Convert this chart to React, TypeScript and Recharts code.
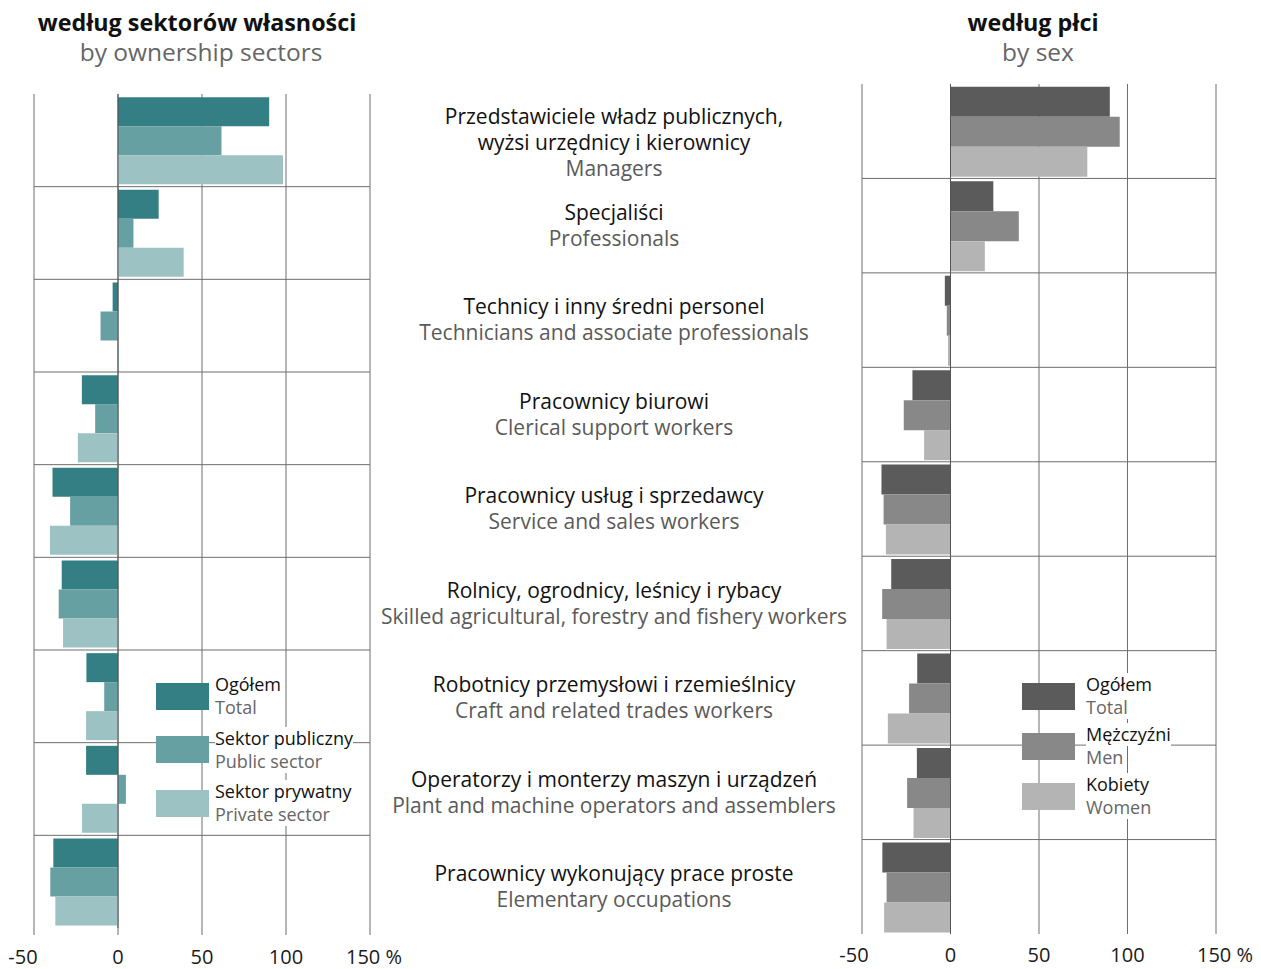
import React from 'react';
import { BarChart, Bar, XAxis, YAxis, CartesianGrid, ReferenceLine, Legend } from 'recharts';

const FONT = '"Open Sans", "Noto Sans", sans-serif';

const occupationsPl: string[][] = [
  ['Przedstawiciele władz publicznych,', 'wyżsi urzędnicy i kierownicy'],
  ['Specjaliści'],
  ['Technicy i inny średni personel'],
  ['Pracownicy biurowi'],
  ['Pracownicy usług i sprzedawcy'],
  ['Rolnicy, ogrodnicy, leśnicy i rybacy'],
  ['Robotnicy przemysłowi i rzemieślnicy'],
  ['Operatorzy i monterzy maszyn i urządzeń'],
  ['Pracownicy wykonujący prace proste'],
];
const occupationsEn: string[] = [
  'Managers',
  'Professionals',
  'Technicians and associate professionals',
  'Clerical support workers',
  'Service and sales workers',
  'Skilled agricultural, forestry and fishery workers',
  'Craft and related trades workers',
  'Plant and machine operators and assemblers',
  'Elementary occupations',
];

const totalValues = [90, 24.2, -3.2, -21.5, -39, -33.5, -18.8, -19, -38.5];
const publicSectorValues = [61.6, 9.2, -10.4, -13.6, -28.5, -35.3, -8.2, 4.7, -40.3];
const privateSectorValues = [98.2, 39.1, 0.4, -23.9, -40.5, -32.7, -19, -21.4, -37.3];
const menValues = [95.6, 38.6, -2.1, -26.4, -37.8, -38.6, -23.4, -24.5, -36.1];
const womenValues = [77.3, 19.4, -1.4, -14.9, -36.5, -36.1, -35.4, -20.9, -37.5];

const xTicks = [-50, 0, 50, 100, 150];
const rowBoundaries = [1, 2, 3, 4, 5, 6, 7, 8];

const sectorSeries = [
  { key: 'total', pl: 'Ogółem', en: 'Total', color: '#347f84' },
  { key: 'publicSector', pl: 'Sektor publiczny', en: 'Public sector', color: '#67a0a3' },
  { key: 'privateSector', pl: 'Sektor prywatny', en: 'Private sector', color: '#9cc2c4' },
];
const sexSeries = [
  { key: 'total', pl: 'Ogółem', en: 'Total', color: '#5b5b5b' },
  { key: 'men', pl: 'Mężczyźni', en: 'Men', color: '#888888' },
  { key: 'women', pl: 'Kobiety', en: 'Women', color: '#b3b4b3' },
];

const sectorData = occupationsEn.map((name, i) => ({
  name,
  total: totalValues[i],
  publicSector: publicSectorValues[i],
  privateSector: privateSectorValues[i],
}));
const sexData = occupationsEn.map((name, i) => ({
  name,
  total: totalValues[i],
  men: menValues[i],
  women: womenValues[i],
}));

const GRID = '#6e6e6e';
const LABEL_X = 234;

const rowLines = (props: any) => {
  const { offset } = props;
  const n = occupationsEn.length;
  return rowBoundaries.map((b) => offset.top + (offset.height * b) / n);
};

const makeXTick = (firstDx: number, lastDx: number, dy: number) => (props: any) => {
  const { x, y, payload } = props;
  const v = payload.value;
  const label = v === 150 ? '150 %' : String(v);
  const dx = v === -50 ? firstDx : v === 150 ? lastDx : 0;
  return (
    <text x={x + dx} y={y + dy} textAnchor="middle" fontSize={20} fill="#1a1a1a" fontFamily={FONT}>
      {label}
    </text>
  );
};

const OccupationTick = (props: any) => {
  const { y, payload } = props;
  const idx = occupationsEn.indexOf(payload.value);
  if (idx < 0) return null;
  const lines = [
    ...occupationsPl[idx].map((t) => ({ t, c: '#111111' })),
    { t: occupationsEn[idx], c: '#5a5a5a' },
  ];
  const lh = 26;
  const startY = y - ((lines.length - 1) * lh) / 2 + (lines.length > 2 ? 11 : 0);
  return (
    <g>
      {lines.map((l, i) => (
        <text key={i} x={LABEL_X} y={startY + i * lh} dy="0.35em" textAnchor="middle" fontSize={21} fill={l.c} fontFamily={FONT}>
          {l.t}
        </text>
      ))}
    </g>
  );
};

const LegendBox = ({ series, rowGap, gap }: { series: typeof sectorSeries; rowGap: number; gap: number }) => (
  <div style={{ fontFamily: FONT }}>
    {series.map((s) => (
      <div key={s.key} style={{ display: 'flex', alignItems: 'center', height: 46, marginBottom: rowGap }}>
        <div style={{ width: 53, height: 27, background: s.color, flex: 'none' }} />
        <div style={{ marginLeft: gap, lineHeight: '23px', fontSize: 18 }}>
          <div style={{ background: '#fff', color: '#111', width: 'fit-content' }}>{s.pl}</div>
          <div style={{ background: '#fff', color: '#666', width: 'fit-content' }}>{s.en}</div>
        </div>
      </div>
    ))}
  </div>
);

export default function App() {
  return (
    <div style={{ position: 'absolute', left: 0, top: 0, width: 1261, height: 969, background: '#fff', fontFamily: FONT }}>
      <div style={{ position: 'absolute', left: 0, top: 6, width: 394, textAlign: 'center', fontWeight: 700, fontSize: 23.3, lineHeight: '32px', color: '#111' }}>
        według sektorów własności
      </div>
      <div style={{ position: 'absolute', left: 0, top: 36, width: 402, textAlign: 'center', fontSize: 24.5, lineHeight: '32px', color: '#666' }}>
        by ownership sectors
      </div>
      <div style={{ position: 'absolute', left: 866, top: 6, width: 334, textAlign: 'center', fontWeight: 700, fontSize: 23.3, lineHeight: '32px', color: '#111' }}>
        według płci
      </div>
      <div style={{ position: 'absolute', left: 871, top: 36, width: 334, textAlign: 'center', fontSize: 24.5, lineHeight: '32px', color: '#666' }}>
        by sex
      </div>

      <div style={{ position: 'absolute', left: 0, top: 0 }}>
        <BarChart
          width={420}
          height={969}
          data={sectorData}
          layout="vertical"
          margin={{ top: 94, right: 50, bottom: 11, left: 34 }}
          barCategoryGap="3.4%"
          barGap={0}
        >
          <XAxis
            type="number"
            domain={[-50, 150]}
            ticks={xTicks}
            allowDataOverflow
            axisLine={false}
            tickLine={{ stroke: GRID }}
            tickSize={7}
            height={30}
            interval={0}
            tick={makeXTick(-11, 4, 27)}
          />
          <YAxis yAxisId="cat" type="category" dataKey="name" hide />
          <CartesianGrid yAxisId="cat" stroke={GRID} strokeWidth={1} horizontalCoordinatesGenerator={rowLines} />
          {sectorSeries.map((s) => (
            <Bar key={s.key} yAxisId="cat" dataKey={s.key} fill={s.color} isAnimationActive={false} />
          ))}
          <ReferenceLine yAxisId="cat" x={0} stroke="#555" strokeWidth={1} />
          <Legend
            layout="vertical"
            align="center"
            verticalAlign="middle"
            wrapperStyle={{ left: 156, top: 673, width: 230, height: 160 }}
            content={() => <LegendBox series={sectorSeries} rowGap={7.5} gap={6} />}
          />
        </BarChart>
      </div>

      <div style={{ position: 'absolute', left: 380, top: 0 }}>
        <BarChart
          width={881}
          height={969}
          data={sexData}
          layout="vertical"
          margin={{ top: 84, right: 45, bottom: 5, left: 0 }}
          barCategoryGap="3%"
          barGap={0}
        >
          <XAxis
            type="number"
            domain={[-50, 150]}
            ticks={xTicks}
            allowDataOverflow
            axisLine={false}
            tickLine={false}
            tickSize={0}
            height={30}
            interval={0}
            tick={makeXTick(-8, 9, 26)}
          />
          <YAxis
            yAxisId="cat"
            type="category"
            dataKey="name"
            width={482}
            axisLine={false}
            tickLine={false}
            interval={0}
            tick={<OccupationTick />}
          />
          <CartesianGrid yAxisId="cat" stroke={GRID} strokeWidth={1} horizontalCoordinatesGenerator={rowLines} />
          {sexSeries.map((s) => (
            <Bar key={s.key} yAxisId="cat" dataKey={s.key} fill={s.color} isAnimationActive={false} />
          ))}
          <ReferenceLine yAxisId="cat" x={0} stroke="#555" strokeWidth={1} />
          <Legend
            layout="vertical"
            align="center"
            verticalAlign="middle"
            wrapperStyle={{ left: 642, top: 673, width: 200, height: 150 }}
            content={() => <LegendBox series={sexSeries} rowGap={4} gap={11} />}
          />
        </BarChart>
      </div>
    </div>
  );
}
